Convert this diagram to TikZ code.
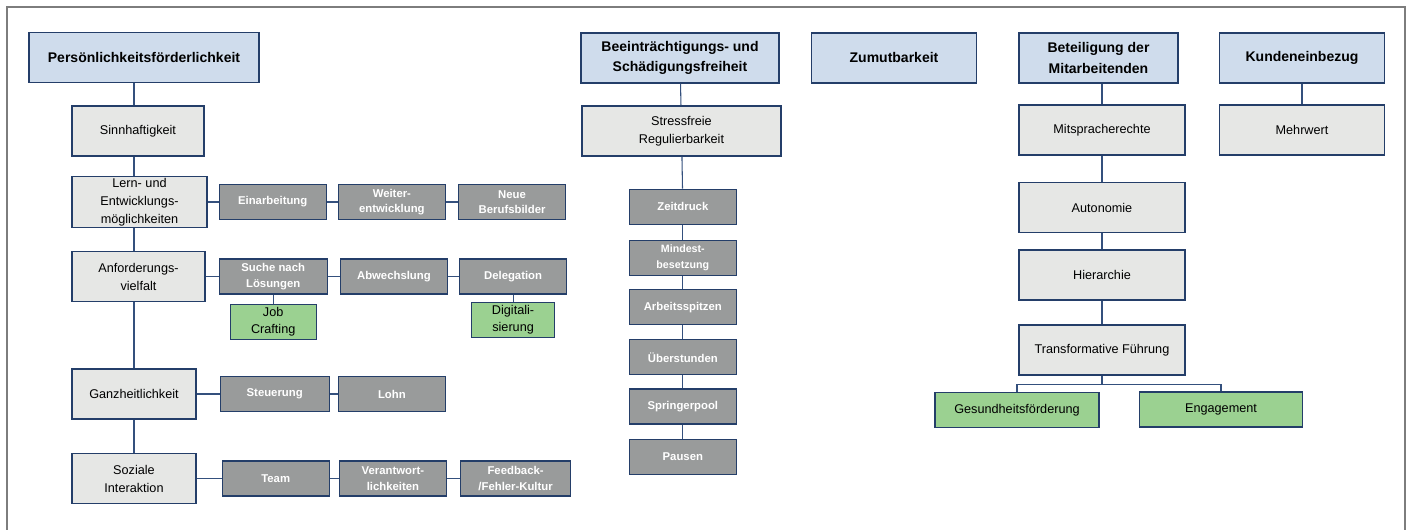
\documentclass[tikz,border=0pt]{standalone}
\usepackage{fontspec}
\setmainfont{Liberation Sans}
\usetikzlibrary{positioning,calc}

\definecolor{headblue}{RGB}{207,220,236}
\definecolor{navy}{RGB}{36,62,105}
\definecolor{subgray}{RGB}{230,231,229}
\definecolor{itemgray}{RGB}{153,155,155}
\definecolor{leafgreen}{RGB}{155,209,145}
\definecolor{linkblue}{RGB}{52,80,125}
\definecolor{framegray}{RGB}{125,125,125}

\begin{document}
\begin{tikzpicture}[x=0.75pt,y=-0.75pt,
    head/.style={rectangle, draw=navy, fill=headblue, line width=0.9pt,
                 font=\fontsize{10.5}{15.5}\selectfont\bfseries, align=center,
                 minimum height=37.5pt, inner sep=1pt},
    sub/.style={rectangle, draw=navy, fill=subgray, line width=0.9pt,
                font=\fontsize{9.5}{13.5}\selectfont, align=center,
                minimum height=37.5pt, inner sep=1pt},
    item/.style={rectangle, draw=navy, fill=itemgray, line width=0.9pt, text=white,
                 font=\fontsize{8.5}{11.7}\selectfont\bfseries, align=center,
                 minimum width=80.25pt, minimum height=26.25pt, inner sep=1pt},
    leaf/.style={rectangle, draw=navy, fill=leafgreen, line width=0.9pt,
                 font=\fontsize{9.5}{13}\selectfont, align=center,
                 minimum height=26.25pt, inner sep=1pt},
    link/.style={draw=linkblue, line width=0.8pt}]

  \useasboundingbox (0,0) rectangle (1411,530);
  \draw[framegray, line width=1.1pt] (7,530) -- (7,7) -- (1405,7) -- (1405,530);

  % Persoenlichkeitsfoerderlichkeit
  \node[head,minimum width=172.5pt] (P) at (144,57.5) {Persönlichkeitsförderlichkeit};
  \node[sub,minimum width=99pt] (P1) at (138,131) {Sinnhaftigkeit};
  \node[sub,minimum width=101.25pt] (P2) at (139.5,202) {Lern- und\\Entwicklungs-\\möglichkeiten};
  \node[sub,minimum width=99.75pt] (P3) at (138.5,276.5) {Anforderungs-\\vielfalt};
  \node[sub,minimum width=93pt] (P4) at (134,394) {Ganzheitlichkeit};
  \node[sub,minimum width=93pt] (P5) at (134,478.5) {Soziale\\Interaktion};

  \node[item,right=8.25pt of P2] (P21) {Einarbeitung};
  \node[item,right=8.25pt of P21] (P22) {Weiter-\\entwicklung};
  \node[item,right=9pt of P22] (P23) {Neue\\Berufsbilder};

  \node[item,right=9.75pt of P3,minimum width=81pt] (P31) {Suche nach\\Lösungen};
  \node[item,right=9pt of P31] (P32) {Abwechslung};
  \node[item,right=8.25pt of P32] (P33) {Delegation};
  \node[leaf,below=6.75pt of P31,minimum width=64.5pt] (P311) {Job\\Crafting};
  \node[leaf,below=5.25pt of P33,minimum width=62.25pt] (P331) {Digitali-\\sierung};

  \node[item,right=17.25pt of P4,minimum width=81.75pt] (P41) {Steuerung};
  \node[item,right=6pt of P41] (P42) {Lohn};

  \node[item,right=18.75pt of P5] (P51) {Team};
  \node[item,right=6.75pt of P51] (P52) {Verantwort-\\lichkeiten};
  \node[item,right=9.75pt of P52,minimum width=82.5pt] (P53) {Feedback-\\/Fehler-Kultur};

  % Beeintraechtigungs- und Schaedigungsfreiheit
  \node[head,minimum width=148.5pt] (B) at (680,58) {Beeinträchtigungs- und\\Schädigungsfreiheit};
  \node[sub,minimum width=149.25pt] (B1) at (681.5,131) {Stressfreie\\Regulierbarkeit};
  \node[item,below=24pt of B1,xshift=1pt] (B2) {Zeitdruck};
  \node[item,below=11.25pt of B2,font=\fontsize{8}{12.5}\selectfont\bfseries] (B3) {Mindest-\\besetzung};
  \node[item,below=9.75pt of B3] (B4) {Arbeitsspitzen};
  \node[item,below=10.5pt of B4] (B5) {Überstunden};
  \node[item,below=9.75pt of B5] (B6) {Springerpool};
  \node[item,below=10.5pt of B6] (B7) {Pausen};

  % Zumutbarkeit, Beteiligung, Kunden
  \node[head,minimum width=123.75pt] (Z) at (894,58) {Zumutbarkeit};
  \node[head,minimum width=119.25pt] (M) at (1098.5,58) {Beteiligung der\\Mitarbeitenden};
  \node[sub,minimum width=124.5pt] (M1) at (1102,130) {Mitspracherechte};
  \node[sub,minimum width=124.5pt] (M2) at (1102,207.5) {Autonomie};
  \node[sub,minimum width=124.5pt] (M3) at (1102,275) {Hierarchie};
  \node[sub,minimum width=124.5pt] (M4) at (1102,350) {Transformative Führung};
  \node[leaf,minimum width=123pt] (M41) at (1017,410) {Gesundheitsförderung};
  \node[leaf,minimum width=122.25pt] (M42) at (1221,409.5) {Engagement};
  \node[head,minimum width=124pt] (K) at (1302,58) {Kundeneinbezug};
  \node[sub,minimum width=124pt] (K1) at (1302,130) {Mehrwert};

  % connectors
  \coordinate (T) at (134,0);
  \draw[link] (P.south -| T) -- (P1.north -| T);
  \draw[link] (P1.south -| T) -- (P2.north -| T);
  \draw[link] (P2.south -| T) -- (P3.north -| T);
  \draw[link] (P3.south -| T) -- (P4.north -| T);
  \draw[link] (P4.south -| T) -- (P5.north -| T);

  \draw[link] (P2) -- (P21);
  \draw[link] (P21) -- (P22);
  \draw[link] (P22) -- (P23);
  \draw[link] (P3) -- (P31);
  \draw[link] (P31) -- (P32);
  \draw[link] (P32) -- (P33);
  \draw[link] (P31) -- (P311);
  \draw[link] (P33) -- (P331);
  \draw[link] (P4) -- (P41);
  \draw[link] (P41) -- (P42);
  \draw[link] (P5) -- (P51);
  \draw[link] (P51) -- (P52);
  \draw[link] (P52) -- (P53);

  \draw[link] (B) -- (B1);
  \draw[link] (B1) -- (B2);
  \draw[link] (B2) -- (B3);
  \draw[link] (B3) -- (B4);
  \draw[link] (B4) -- (B5);
  \draw[link] (B5) -- (B6);
  \draw[link] (B6) -- (B7);

  \draw[link] (M.south -| M1.north) -- (M1.north);
  \draw[link] (M1) -- (M2);
  \draw[link] (M2) -- (M3);
  \draw[link] (M3) -- (M4);
  \draw[link] (M4.south) -- ++(0,9) -| (M41.north);
  \draw[link] (M4.south) -- ++(0,9) -| (M42.north);
  \draw[link] (K) -- (K1);
\end{tikzpicture}
\end{document}
